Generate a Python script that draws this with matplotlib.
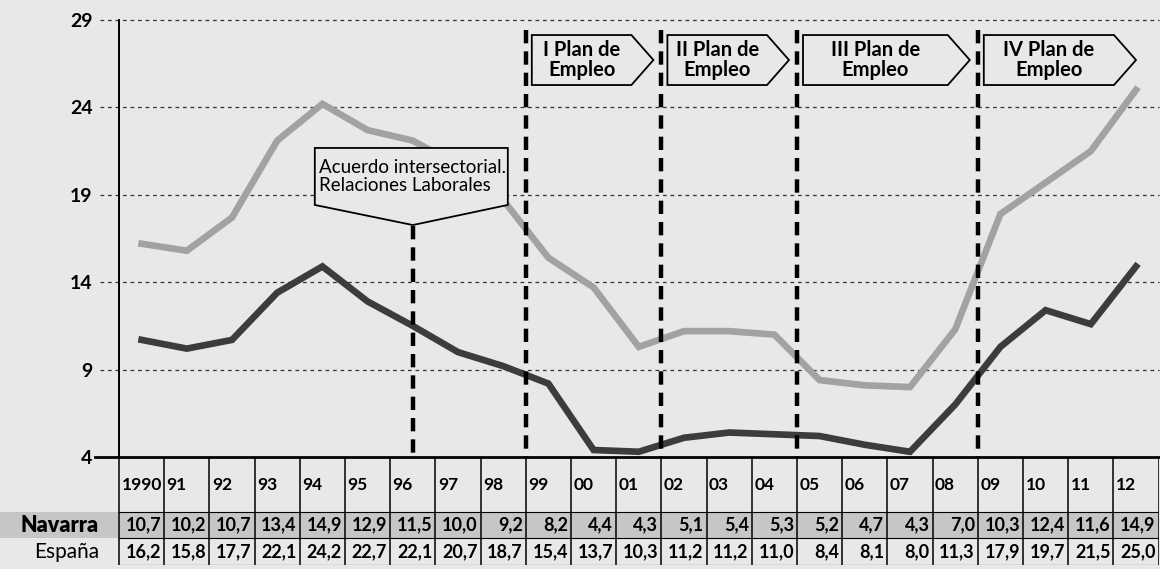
"""Paro registrado: Navarra vs España 1990-2012
"""

import numpy as np
import matplotlib
matplotlib.use('Agg')
import matplotlib.pyplot as plt
from matplotlib.patches import Polygon, Rectangle

plt.rcParams['font.family'] = ['Lato', 'DejaVu Sans']

# data
years = ['1990', '91', '92', '93', '94', '95', '96', '97', '98', '99', '00', '01',
         '02', '03', '04', '05', '06', '07', '08', '09', '10', '11', '12']
navarra = [10.7, 10.2, 10.7, 13.4, 14.9, 12.9, 11.5, 10.0, 9.2, 8.2, 4.4, 4.3,
           5.1, 5.4, 5.3, 5.2, 4.7, 4.3, 7.0, 10.3, 12.4, 11.6, 14.9]
espana = [16.2, 15.8, 17.7, 22.1, 24.2, 22.7, 22.1, 20.7, 18.7, 15.4, 13.7, 10.3,
          11.2, 11.2, 11.0, 8.4, 8.1, 8.0, 11.3, 17.9, 19.7, 21.5, 25.0]
yticks = [4, 9, 14, 19, 24, 29]
plans = ['I Plan de\nEmpleo', 'II Plan de\nEmpleo', 'III Plan de\nEmpleo', 'IV Plan de\nEmpleo']
plan_start = ['99', '02', '05', '09']
acuerdo_year = '96'
acuerdo_text = 'Acuerdo intersectorial.\nRelaciones Laborales'

bg = '#e8e8e8'
col_w = 45.2          # px per column
x0_px = 119           # left edge of first column

def fmt(v):
    return ('%.1f' % v).replace('.', ',')

fig = plt.figure(figsize=(11.6, 5.69), dpi=100, facecolor=bg)
ax = fig.add_axes([x0_px/1160, (569-457)/569, 23*col_w/1160, 437/569])
ax.set_xlim(-0.5, 22.5)
ax.set_ylim(4, 29)
ax.patch.set_visible(False)
for s in ['top', 'right', 'bottom']:
    ax.spines[s].set_visible(False)
ax.spines['left'].set_linewidth(1.4)
ax.set_xticks([])
ax.set_yticks(yticks)
ax.set_yticklabels([str(t) for t in yticks], fontsize=14, fontweight='bold')
ax.tick_params(axis='y', length=0, pad=19)

x = np.arange(len(years))
gx0 = -0.5 - 19/col_w
for t in yticks[1:]:
    ax.plot([gx0, 22.5], [t, t], ls=(0, (3, 3)), lw=0.9, color='#333333',
            clip_on=False, zorder=1)
ax.plot([-0.5 - 24/col_w, 22.5], [4, 4], lw=2, color='k', clip_on=False, zorder=5)

# series
ax.plot(x, espana, color='#a2a2a2', lw=4.8, zorder=3, solid_joinstyle='miter')
ax.plot(x, navarra, color='#3c3c3c', lw=4.8, zorder=3, solid_joinstyle='miter')

# plan lines and boxes
ytop, ybot = 28.14, 25.28
slant = 22/col_w
for i, (lab, yr) in enumerate(zip(plans, plan_start)):
    xb = years.index(yr) - 0.5
    ax.plot([xb, xb], [28.4, 4], color='k', lw=3.2, ls=(0, (3, 1.8)), zorder=4)
    left = xb + 6/col_w
    if i < len(plans) - 1:
        tip = years.index(plan_start[i+1]) - 0.5 - 8/col_w
    else:
        tip = 22.0
    right = tip - slant
    poly = Polygon([(left, ytop), (right, ytop), (tip, (ytop+ybot)/2),
                    (right, ybot), (left, ybot)], closed=True,
                   facecolor=bg, edgecolor='k', lw=1.3, zorder=6)
    ax.add_patch(poly)
    ax.text((left+right)/2, (ytop+ybot)/2, lab, ha='center', va='center',
            fontsize=14.5, fontweight='bold', linespacing=1.0, zorder=7)

# acuerdo callout
xa = years.index(acuerdo_year)
ax.plot([xa, xa], [17.2, 4], color='k', lw=3.2, ls=(0, (3, 1.8)), zorder=4)
al, ar = xa - 98/col_w, xa + 95/col_w
at, ab, atip = 21.68, 18.42, 17.27
ax.add_patch(Polygon([(al, at), (ar, at), (ar, ab), (xa, atip), (al, ab)],
                     closed=True, facecolor=bg, edgecolor='k', lw=1.3, zorder=6))
ax.text(al + 4/col_w, (at+ab)/2, acuerdo_text, ha='left', va='center',
        fontsize=13.5, linespacing=1.1, zorder=7)

# table
tab = fig.add_axes([0, 4/569, (x0_px + 23*col_w)/1160, 108/569])
tab.set_xlim(-0.5 - x0_px/col_w, 22.5)
tab.set_ylim(108, 0)
tab.axis('off')
tab.add_patch(Rectangle((-0.5 - x0_px/col_w, 55), 30, 26, facecolor='#c6c6c6',
                        edgecolor='none', zorder=0))
for i in range(len(years) + 1):
    tab.plot([i - 0.5, i - 0.5], [0, 108], color='k', lw=1.1, zorder=2)
for yy in [55, 81, 108]:
    tab.plot([-0.5, 22.5], [yy, yy], color='k', lw=0.8, zorder=2)
for i, yr in enumerate(years):
    tab.text(i - 0.5 + 2.5/col_w, 28, yr, ha='left', va='center',
             fontsize=12.5, fontweight='bold')
    tab.text(i + 0.5 - 3/col_w, 68, fmt(navarra[i]), ha='right', va='center',
             fontsize=13, fontweight='bold')
    tab.text(i + 0.5 - 3/col_w, 95, fmt(espana[i]), ha='right', va='center',
             fontsize=13, fontweight='bold')
tab.text(-0.5 - 20/col_w, 68, 'Navarra', ha='right', va='center',
         fontsize=15.5, fontweight='heavy')
tab.text(-0.5 - 20/col_w, 95, 'España', ha='right', va='center', fontsize=15)

fig.savefig('out.png', dpi=100, facecolor=bg)
